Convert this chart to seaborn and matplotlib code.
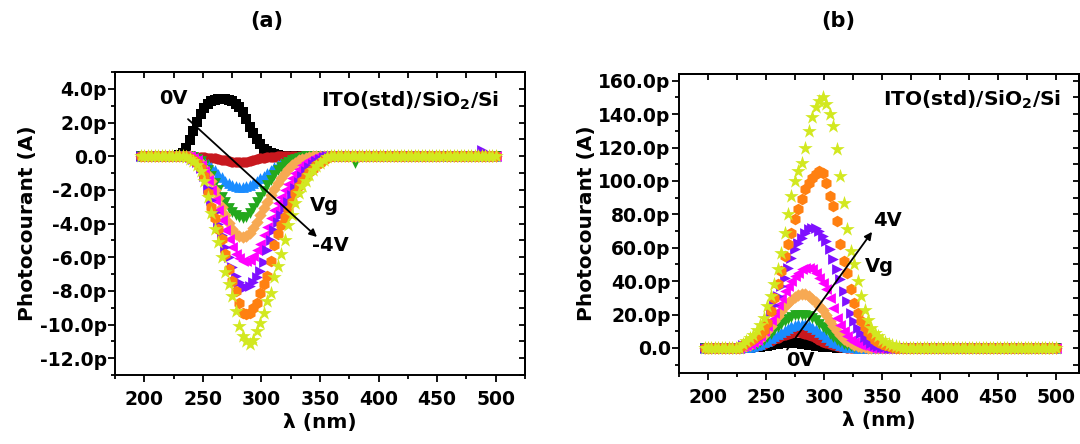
import numpy as np
import pandas as pd
import matplotlib
matplotlib.use("Agg")
import matplotlib.pyplot as plt
import seaborn as sns
from matplotlib.ticker import MultipleLocator, FuncFormatter

# wavelength grid (nm), 3 nm step
wl = np.arange(197, 501, 3)
W0 = 230   # first wavelength of the listed values, baseline (0) elsewhere

# (a) negative gate bias, photocurrent in pA
vg_a = ["0V", "-0.5V", "-1V", "-1.5V", "-2V", "-2.5V", "-3V", "-3.5V", "-4V"]
a_0 = [0.05, 0.2, 0.5, 0.95, 1.5, 2.05, 2.5, 2.85, 3.1, 3.25, 3.35, 3.4, 3.4, 3.4, 3.35,
       3.25, 3.1, 2.9, 2.6, 2.2, 1.75, 1.35, 1.0, 0.7, 0.45, 0.3, 0.18, 0.1, 0.05]
a_05 = [0, 0, 0, 0, 0, -0.02, -0.04, -0.06, -0.08, -0.1, -0.13, -0.16, -0.2, -0.24, -0.28,
        -0.32, -0.35, -0.36, -0.35, -0.32, -0.28, -0.23, -0.18, -0.13, -0.09, -0.06, -0.04, -0.02]
a_1 = [0, 0, 0, 0, -0.03, -0.08, -0.18, -0.3, -0.45, -0.65, -0.85, -1.05, -1.25, -1.45, -1.6,
       -1.72, -1.8, -1.85, -1.85, -1.8, -1.7, -1.6, -1.45, -1.3, -1.15, -0.98, -0.82, -0.67,
       -0.54, -0.42, -0.32, -0.23, -0.16, -0.1, -0.06, -0.03]
a_15 = [0, 0, 0, 0, -0.05, -0.15, -0.3, -0.55, -0.85, -1.2, -1.6, -2.0, -2.4, -2.75, -3.05,
        -3.3, -3.5, -3.6, -3.65, -3.6, -3.4, -3.1, -2.75, -2.4, -2.05, -1.7, -1.4, -1.1,
        -0.85, -0.65, -0.48, -0.34, -0.23, -0.14, -0.08, -0.04]
a_2 = [0, 0, 0, 0, -0.05, -0.2, -0.4, -0.7, -1.1, -1.5, -2.0, -2.5, -3.0, -3.5, -3.95,
       -4.3, -4.6, -4.75, -4.8, -4.75, -4.55, -4.25, -3.9, -3.5, -3.1, -2.7, -2.3, -1.95,
       -1.6, -1.3, -1.0, -0.75, -0.55, -0.38, -0.25, -0.15, -0.08, -0.03]
a_25 = [0, 0, 0, 0, -0.1, -0.25, -0.5, -0.9, -1.4, -2.0, -2.6, -3.2, -3.8, -4.4, -4.9,
        -5.4, -5.8, -6.05, -6.2, -6.25, -6.15, -5.95, -5.6, -5.2, -4.7, -4.2, -3.7, -3.2,
        -2.8, -2.4, -2.0, -1.65, -1.3, -1.0, -0.75, -0.55, -0.35, -0.2, -0.1, -0.03]
a_3 = [0, 0, 0, -0.05, -0.15, -0.35, -0.7, -1.2, -1.9, -2.6, -3.3, -4.0, -4.7, -5.4, -6.0,
       -6.6, -7.1, -7.5, -7.75, -7.8, -7.7, -7.5, -7.2, -6.8, -6.3, -5.6, -5.0, -4.4, -3.9,
       -3.5, -3.1, -2.7, -2.3, -1.9, -1.55, -1.2, -0.9, -0.65, -0.45, -0.3, -0.15, -0.05]
a_35 = [0, 0, 0, -0.1, -0.2, -0.4, -0.7, -1.2, -2.2, -3.0, -3.7, -4.3, -4.9, -5.8, -6.7,
        -7.4, -8.0, -8.7, -9.3, -9.4, -9.3, -9.0, -8.7, -8.1, -7.6, -7.1, -6.2, -5.3, -4.6,
        -4.1, -3.6, -3.2, -2.7, -2.2, -1.8, -1.45, -1.2, -0.95, -0.75, -0.55, -0.4, -0.25, -0.1]
a_4 = [0, 0, -0.05, -0.15, -0.3, -0.55, -0.9, -1.5, -2.4, -3.4, -4.3, -5.1, -6.0, -6.9, -7.6,
       -8.3, -9.2, -10.1, -10.7, -11.0, -11.15, -10.9, -10.4, -9.9, -9.3, -8.6, -8.1, -7.2,
       -6.5, -5.8, -5.0, -4.1, -3.5, -2.8, -2.2, -1.8, -1.45, -1.1, -0.85, -0.6, -0.4, -0.2, -0.05]
a_spikes = [("-1.5V", 380, -0.4), ("-3V", 488, 0.35)]

# (b) positive gate bias, photocurrent in pA
vg_b = ["0V", "0.5V", "1V", "1.5V", "2V", "2.5V", "3V", "3.5V", "4V"]
b_0 = [0, 0.1, 0.2, 0.3, 0.5, 0.7, 1.0, 1.3, 1.7, 2.1, 2.5, 2.8, 3.0, 3.1, 3.1, 3.0, 2.8, 2.6,
       2.3, 2.0, 1.7, 1.4, 1.1, 0.8, 0.6, 0.4, 0.3, 0.2, 0.1, 0.05]
b_05 = [0.2, 0.4, 0.6, 0.9, 1.3, 1.8, 2.5, 3.3, 4.2, 5.2, 6.2, 7.1, 7.9, 8.6, 9.1, 9.3, 9.3,
        9.0, 8.5, 7.8, 6.9, 5.9, 4.8, 3.8, 2.9, 2.1, 1.5, 1.0, 0.6, 0.4, 0.2, 0.1]
b_1 = [0.3, 0.5, 0.8, 1.2, 1.7, 2.4, 3.3, 4.4, 5.7, 7.0, 8.4, 9.8, 11.0, 12.2, 13.2, 13.9,
       14.3, 14.4, 14.1, 13.5, 12.5, 11.2, 9.7, 8.1, 6.5, 5.0, 3.7, 2.7, 1.9, 1.3, 0.8, 0.5, 0.3, 0.1]
b_15 = [0.5, 0.8, 1.2, 1.8, 2.5, 3.5, 5.0, 6.5, 8.5, 10.5, 12.5, 14.5, 16.0, 17.5, 18.5, 19.5,
        20.0, 20.0, 19.8, 19.2, 18.0, 16.5, 14.5, 12.5, 10.5, 8.5, 6.5, 5.0, 3.5, 2.5, 1.6,
        1.0, 0.6, 0.3, 0.1]
b_2 = [0.8, 1.2, 2.0, 3.0, 4.0, 5.5, 7.5, 10.0, 13.0, 16.0, 19.0, 22.0, 25.0, 27.0, 29.0, 30.5,
       31.5, 32.0, 32.0, 31.0, 29.5, 27.5, 25.0, 22.5, 19.5, 16.0, 13.0, 10.0, 7.5, 5.5, 4.0,
       2.8, 1.8, 1.2, 0.7, 0.3]
b_25 = [1.0, 1.5, 2.5, 3.5, 5.0, 7.0, 10.0, 13.0, 17.0, 21.0, 26.0, 30.0, 34.0, 37.0, 40.0,
        43.0, 45.0, 47.0, 48.0, 48.0, 47.0, 45.0, 42.0, 39.0, 35.0, 30.0, 24.0, 18.0, 14.0,
        10.0, 7.0, 5.0, 3.5, 2.5, 1.5, 1.0, 0.5]
b_3 = [1.5, 2.0, 3.0, 4.0, 5.5, 8.0, 12.0, 16.0, 21.0, 26.0, 31.0, 37.0, 42.0, 48.0, 54.0,
       59.0, 63.0, 66.0, 69.0, 71.0, 72.0, 72.0, 70.0, 67.0, 64.0, 59.0, 53.0, 47.0, 41.0,
       34.0, 28.0, 21.0, 16.0, 12.0, 9.0, 6.5, 4.5, 3.0, 2.0, 1.2, 0.7, 0.3]
b_35 = [2, 3, 4, 5.5, 7, 8.5, 11, 15, 22, 30, 38, 46, 55, 62, 69, 77, 83, 89, 95, 99, 102,
        104, 106, 105, 99, 91, 85, 76, 62, 52, 45, 35, 27, 21, 16, 12.5, 9.5, 7, 5, 3.5, 2.5,
        1.5, 1, 0.5, 0.2]
b_4 = [2.5, 4, 6, 8, 11, 14, 18, 25, 31, 38, 47, 57, 69, 80, 91, 100, 106, 111, 120, 130, 138,
       144, 148, 150, 146, 140, 133, 119, 103, 87, 71, 58, 50, 40, 31, 23, 17, 12, 9, 7, 5,
       3.5, 2.5, 1.5, 1, 0.5, 0.2, 0]

colors = ["#000000", "#c8181e", "#1a8cff", "#24a81d", "#f7a953",
          "#ff00ff", "#7f10ff", "#ff8011", "#d2e820"]
markers = ["s", "o", "^", "v", "D", "<", ">", "h", "*"]
sizes = [42, 55, 60, 60, 40, 60, 60, 70, 120]


def pad(vals):
    y = np.zeros(len(wl))
    i0 = (W0 - wl[0]) // 3
    y[i0:i0 + len(vals)] = vals
    return y


def build(labels, series, spikes=()):
    rows = []
    for lab, vals in zip(labels, series):
        y = pad(vals)
        for name, x, v in spikes:
            if name == lab:
                y[np.argmin(np.abs(wl - x))] = v
        rows.append(pd.DataFrame({"wl": wl, "I": y, "Vg": lab}))
    return pd.concat(rows, ignore_index=True)


df_a = build(vg_a, [a_0, a_05, a_1, a_15, a_2, a_25, a_3, a_35, a_4], a_spikes)
df_b = build(vg_b, [b_0, b_05, b_1, b_15, b_2, b_25, b_3, b_35, b_4])

plt.rcParams["font.family"] = "DejaVu Sans"
plt.rcParams["font.weight"] = "bold"
plt.rcParams["mathtext.default"] = "bf"

fig = plt.figure(figsize=(10.8, 4.44), dpi=100)
ax_a = fig.add_axes([0.1065, 0.1554, 0.3796, 0.6824])
ax_b = fig.add_axes([0.6287, 0.1599, 0.3704, 0.6734])


def pfmt(v, pos):
    return "0.0" if abs(v) < 1e-9 else f"{v:.1f}p"


def style(ax, xlim, ylim, ymaj, ymin):
    ax.set_xlim(*xlim)
    ax.set_ylim(*ylim)
    ax.xaxis.set_major_locator(MultipleLocator(50))
    ax.xaxis.set_minor_locator(MultipleLocator(25))
    ax.yaxis.set_major_locator(MultipleLocator(ymaj))
    ax.yaxis.set_minor_locator(MultipleLocator(ymin))
    ax.yaxis.set_major_formatter(FuncFormatter(pfmt))
    for s in ax.spines.values():
        s.set_linewidth(1.4)
    ax.tick_params(which="both", direction="out", width=1.3, labelsize=13.5)
    ax.tick_params(which="major", length=5)
    ax.tick_params(which="minor", length=3)
    ax.tick_params(axis="x", pad=6)
    ax.tick_params(axis="y", pad=1)
    top = ax.secondary_xaxis("top")
    top.xaxis.set_major_locator(MultipleLocator(50))
    top.xaxis.set_minor_locator(MultipleLocator(25))
    top.tick_params(which="both", direction="in", length=4, width=1.3, labeltop=False)
    right = ax.secondary_yaxis("right")
    right.yaxis.set_major_locator(MultipleLocator(ymaj))
    right.yaxis.set_minor_locator(MultipleLocator(ymin))
    right.tick_params(which="both", direction="in", length=4, width=1.3, labelright=False)
    for sec in (top, right):
        for s in sec.spines.values():
            s.set_linewidth(1.4)
    ax.set_xlabel("λ (nm)", fontsize=14.5, fontweight="bold", labelpad=3)
    ax.set_ylabel("Photocourant (A)", fontsize=14.5, fontweight="bold", labelpad=2)


for ax, df, labels in [(ax_a, df_a, vg_a), (ax_b, df_b, vg_b)]:
    for lab, c, m, s in zip(labels, colors, markers, sizes):
        sns.scatterplot(data=df[df["Vg"] == lab], x="wl", y="I", color=c, marker=m,
                        s=s, linewidth=0, ax=ax, legend=False, zorder=3)

style(ax_a, (175, 525), (-13, 5), 2, 1)
style(ax_b, (175, 520), (-15, 164), 20, 10)

arrow = dict(arrowstyle="-|>", color="k", lw=1.3, mutation_scale=11, shrinkA=0, shrinkB=0)
lbl = dict(fontsize=14, fontweight="bold", va="center", ha="left", zorder=5)

ax_a.annotate("", xy=(347.4, -4.8), xytext=(237.3, 2.2), arrowprops=arrow, zorder=5)
ax_a.text(213, 3.45, "0V", **lbl)
ax_a.text(341, -2.95, "Vg", **lbl)
ax_a.text(343, -5.3, "-4V", **lbl)
ax_a.text(503, 3.3, "ITO(std)/SiO$_2$/Si", fontsize=14.5, fontweight="bold",
          ha="right", va="center")

ax_b.annotate("", xy=(341.5, 69.5), xytext=(268.2, -1), arrowprops=arrow, zorder=5)
ax_b.text(342, 76.5, "4V", **lbl)
ax_b.text(335.5, 48.5, "Vg", **lbl)
ax_b.text(267.5, -7.8, "0V", **lbl)
ax_b.text(505, 148.5, "ITO(std)/SiO$_2$/Si", fontsize=14.5, fontweight="bold",
          ha="right", va="center")

fig.text(267 / 1080, 1 - 21 / 444, "(a)", fontsize=15, fontweight="bold", ha="center", va="center")
fig.text(838 / 1080, 1 - 21 / 444, "(b)", fontsize=15, fontweight="bold", ha="center", va="center")

fig.savefig("out.png", dpi=100)
